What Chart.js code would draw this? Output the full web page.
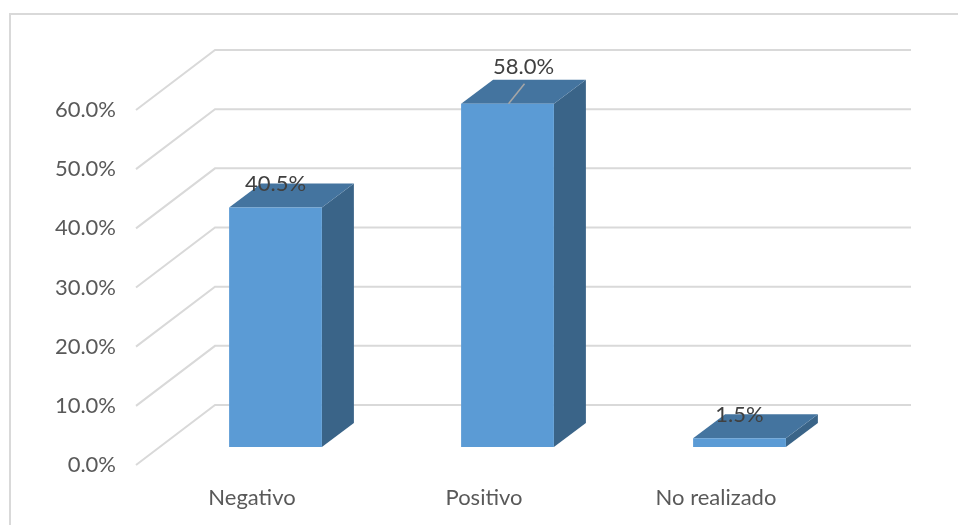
<!DOCTYPE html>
<html>
<head>
<meta charset="utf-8">
<style>
  html, body { margin: 0; padding: 0; background: #fff; }
  #wrap { width: 958px; height: 525px; }
</style>
<script src="https://cdn.jsdelivr.net/npm/chart.js@4"></script>
</head>
<body>
<div id="wrap"><canvas id="chart" width="958" height="525"></canvas></div>
<script>
const categories = ["Negativo", "Positivo", "No realizado"];
const values = [40.5, 58.0, 1.5];
const tickValues = [0, 10, 20, 30, 40, 50, 60];

// fake 3D: how far the back wall and the bars sit from the front plane
const wallDepth = { x: 79, y: -60 };
const barShift = { x: 23.5, y: -18 };
const barDepth = { x: 32, y: -24 };

const pct = v => v.toFixed(1) + "%";

function poly(ctx, color, pts) {
  ctx.fillStyle = color;
  ctx.beginPath();
  pts.forEach((p, i) => i ? ctx.lineTo(p[0], p[1]) : ctx.moveTo(p[0], p[1]));
  ctx.closePath();
  ctx.fill();
}

const fake3d = {
  id: "fake3d",
  beforeDraw(chart) {
    const { ctx, chartArea, scales } = chart;
    ctx.save();
    ctx.strokeStyle = "#d9d9d9";
    ctx.lineWidth = 2;
    // chart frame, only top and left show in the picture
    ctx.beginPath();
    ctx.moveTo(10, 525);
    ctx.lineTo(10, 14);
    ctx.lineTo(958, 14);
    ctx.stroke();
    tickValues.forEach(v => {
      const y = scales.y.getPixelForValue(v);
      ctx.beginPath();
      ctx.moveTo(chartArea.left, y);
      ctx.lineTo(chartArea.left + wallDepth.x, y + wallDepth.y);
      ctx.lineTo(chartArea.right + wallDepth.x, y + wallDepth.y);
      ctx.stroke();
    });
    ctx.restore();
  },
  beforeDatasetDraw(chart) {
    const ctx = chart.ctx;
    ctx.save();
    ctx.translate(barShift.x, barShift.y);
    chart.getDatasetMeta(0).data.forEach(bar => {
      const l = bar.x - bar.width / 2, r = bar.x + bar.width / 2;
      const dx = barDepth.x, dy = barDepth.y;
      poly(ctx, "#3a6488", [[r, bar.y], [r + dx, bar.y + dy], [r + dx, bar.base + dy], [r, bar.base]]);
      poly(ctx, "#44749f", [[l, bar.y], [l + dx, bar.y + dy], [r + dx, bar.y + dy], [r, bar.y]]);
    });
  },
  afterDatasetDraw(chart) {
    chart.ctx.restore();
  },
  afterDatasetsDraw(chart) {
    const ctx = chart.ctx;
    ctx.save();
    ctx.font = "22px Lato";
    ctx.fillStyle = "#404040";
    ctx.textAlign = "center";
    ctx.textBaseline = "middle";
    chart.getDatasetMeta(0).data.forEach((bar, i) => {
      const x = bar.x + barShift.x, y = bar.y + barShift.y;
      if (i === 1) {
        // this label was dragged off its bar, so it has a leader line
        ctx.strokeStyle = "#a6a6a6";
        ctx.lineWidth = 1.5;
        ctx.beginPath();
        ctx.moveTo(x + 1, y);
        ctx.lineTo(x + 17, y - 20);
        ctx.stroke();
        ctx.fillText(pct(values[i]), x + 16, y - 37);
      } else {
        ctx.fillText(pct(values[i]), x, y - 23);
      }
    });
    ctx.restore();
  }
};

new Chart(document.getElementById("chart"), {
  type: "bar",
  data: {
    labels: categories,
    datasets: [{
      data: values,
      backgroundColor: "#5b9bd5",
      borderWidth: 0,
      categoryPercentage: 1,
      barPercentage: 0.4
    }]
  },
  options: {
    responsive: false,
    animation: false,
    layout: { padding: { top: 110, right: 126 } },
    plugins: { legend: { display: false }, tooltip: { enabled: false } },
    scales: {
      x: {
        grid: { display: false, drawTicks: false },
        border: { display: false },
        afterFit: s => { s.height = 60; },
        ticks: { color: "#595959", font: { family: "Lato", size: 22 }, padding: 20, maxRotation: 0 }
      },
      y: {
        min: 0,
        max: 60,
        grid: { display: false, drawTicks: false },
        border: { display: false },
        afterFit: s => { s.width = 136; },
        ticks: {
          stepSize: 10,
          color: "#595959",
          font: { family: "Lato", size: 22 },
          padding: 20,
          callback: v => pct(v)
        }
      }
    }
  },
  plugins: [fake3d]
});
</script>
</body>
</html>
